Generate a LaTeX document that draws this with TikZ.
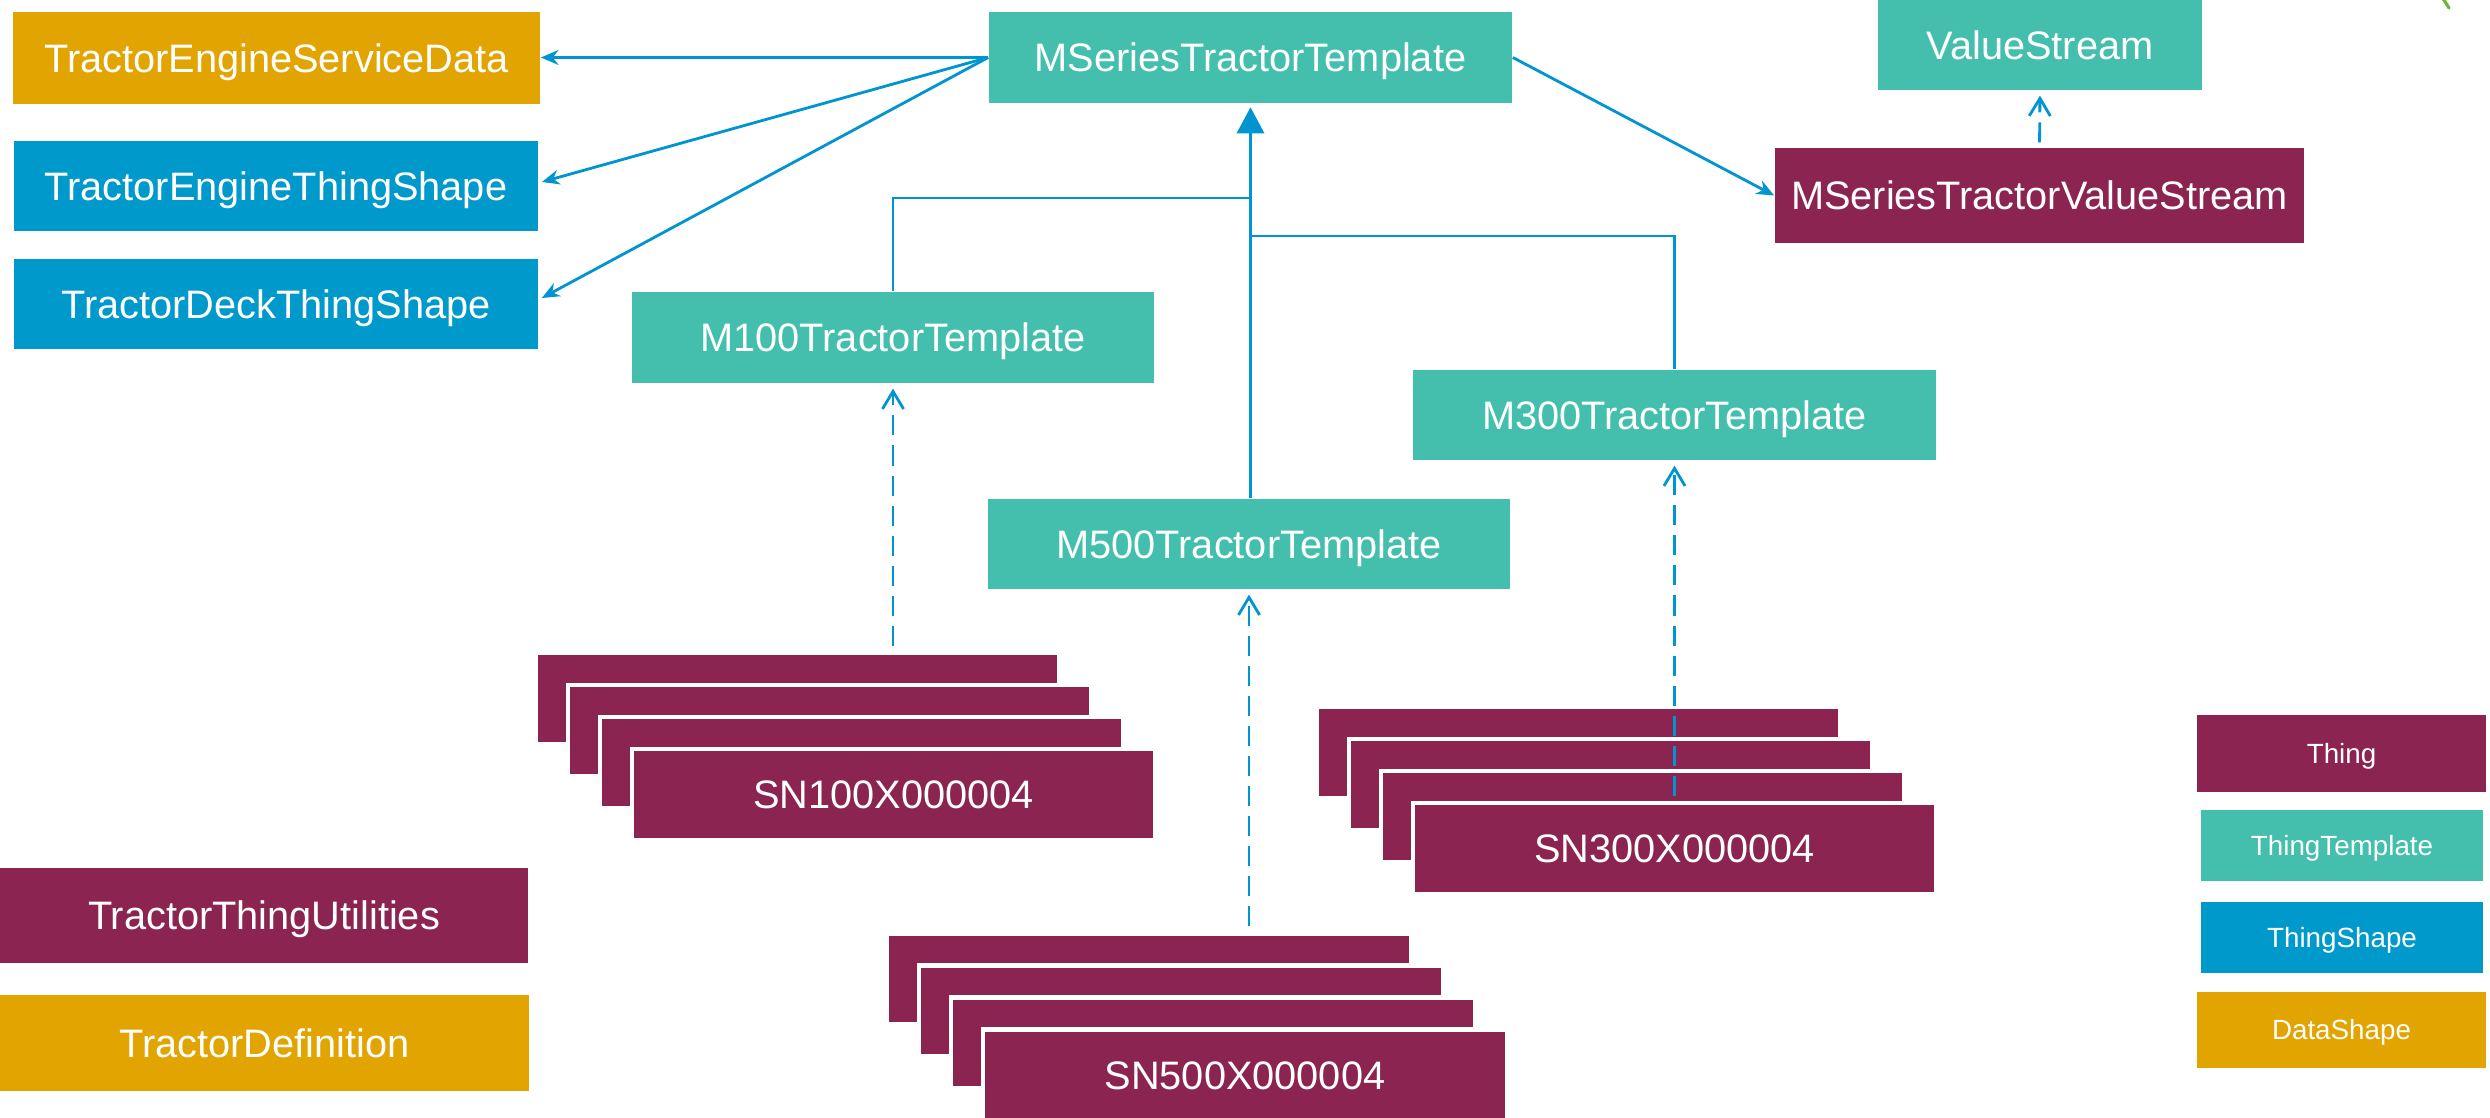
\documentclass[tikz,border=0pt]{standalone}
\usepackage{fontspec}
\setmainfont{Liberation Sans}
\usetikzlibrary{arrows.meta,calc}
\definecolor{tealc}{HTML}{44BFAD}
\definecolor{maroonc}{HTML}{8B2450}
\definecolor{bluec}{HTML}{0099CC}
\definecolor{orangec}{HTML}{E2A400}
\definecolor{linec}{HTML}{0095D0}
\definecolor{greenc}{HTML}{6DB33F}
\begin{document}
\begin{tikzpicture}[x=0.01cm,y=-0.01cm,
  box/.style={rectangle, inner sep=0pt, text=white, font=\fontsize{11.3}{13}\selectfont, text height=8.1pt, text depth=0pt},
  wh/.style 2 args={minimum width=#1*0.1mm, minimum height=#2*0.1mm},
  tmpl/.style={box, fill=tealc},
  thing/.style={box, fill=maroonc},
  tshape/.style={box, fill=bluec},
  dshape/.style={box, fill=orangec},
  stk/.style={box, fill=maroonc, draw=white, line width=1.2pt, wh={523}{91}},
  legend/.style={font=\fontsize{7.9}{9}\selectfont, text height=5.66pt, text depth=0pt},
  conn/.style={draw=linec, line width=0.8pt},
  assoc/.style={conn, -{Stealth[length=5pt,width=4.2pt]}},
  inh/.style={conn, -{Triangle[length=7.4pt,width=7.7pt]}},
  dep/.style={conn, dash pattern=on 5.7pt off 2.85pt, -{Straight Barb[length=5pt,width=6pt]}, shorten >=1.4pt, shorten <=1.4pt}
]
\useasboundingbox (0,0) rectangle (2490,1118);

% top-left boxes
\node[dshape, wh={527}{92}] (sd)  at (276.5,58)  {TractorEngineServiceData};
\node[tshape, wh={524}{90}] (ets) at (276,186)   {TractorEngineThingShape};
\node[tshape, wh={524}{90}] (dts) at (276,304)   {TractorDeckThingShape};

% templates
\node[tmpl, wh={523}{91}] (mst)  at (1250.5,57.5) {MSeriesTractorTemplate};
\node[tmpl, wh={324}{90}] (vs)   at (2040,45)     {ValueStream};
\node[thing, wh={529}{95}] (mtvs) at (2039.5,195.5) {MSeriesTractorValueStream};
\node[tmpl, wh={522}{91}] (m100) at (893,337.5)   {M100TractorTemplate};
\node[tmpl, wh={523}{90}] (m300) at (1674.5,415)  {M300TractorTemplate};
\node[tmpl, wh={522}{90}] (m500) at (1249,544)    {M500TractorTemplate};

% bottom-left boxes
\node[thing, wh={528}{95}]  (ttu) at (264,915.5)  {TractorThingUtilities};
\node[dshape, wh={529}{96}] (tdf) at (264.5,1043) {TractorDefinition};

% stacks
\node[stk] (a1) at (797.5,698.5) {};
\node[stk] (a2) at (829.5,730.5) {};
\node[stk] (a3) at (861.5,762.5) {};
\node[stk] (a4) at (893.5,794.5) {SN100X000004};

\node[stk] (c1) at (1578.5,752.5) {};
\node[stk] (c2) at (1610.5,784.5) {};
\node[stk] (c3) at (1642.5,816.5) {};
\node[stk] (c4) at (1674.5,848.5) {SN300X000004};

\node[stk] (b1) at (1149,979) {};
\node[stk] (b2) at (1181,1011) {};
\node[stk] (b3) at (1213,1043) {};
\node[stk] (b4) at (1245,1075) {SN500X000004};

% legend
\node[thing, legend, wh={289}{77}]  (lth) at (2341.5,753.5) {Thing};
\node[tmpl, legend, wh={282}{71}]   (ltt) at (2342,845.5)   {ThingTemplate};
\node[tshape, legend, wh={282}{71}] (lts) at (2342,937.5)   {ThingShape};
\node[dshape, legend, wh={289}{76}] (lds) at (2341.5,1030)  {DataShape};

% associations
\draw[assoc] (mst.west) -- (mst.west -| sd.east);
\draw[assoc] (mst.west) -- ($(ets.east)+(3,-4)$);
\draw[assoc] (mst.west) -- ($(dts.east)+(3,-6)$);
\draw[assoc] (mst.east) -- (mtvs.west);

% inheritance
\coordinate (j1) at (1250,198);
\coordinate (j2) at (1251,236);
\draw[inh, shorten >=1pt] (m500.north -| mst.south) -- (mst.south);
\draw[conn] (m100.north) |- (j1);
\draw[conn] (m300.north) |- (j2);

% instance / dependency arrows
\draw[dep] (a1.north -| m100.south) -- (m100.south);
\draw[dep] (c4.north -| m300.south) -- (m300.south);
\draw[dep] (b1.north -| m500.south) -- (m500.south);
\draw[dep] (mtvs.north) -- (vs.south);

% small green mark at top right corner
\draw[greenc, line width=0.9pt, line cap=round] (2442,-3) -- (2449,8);
\end{tikzpicture}
\end{document}
